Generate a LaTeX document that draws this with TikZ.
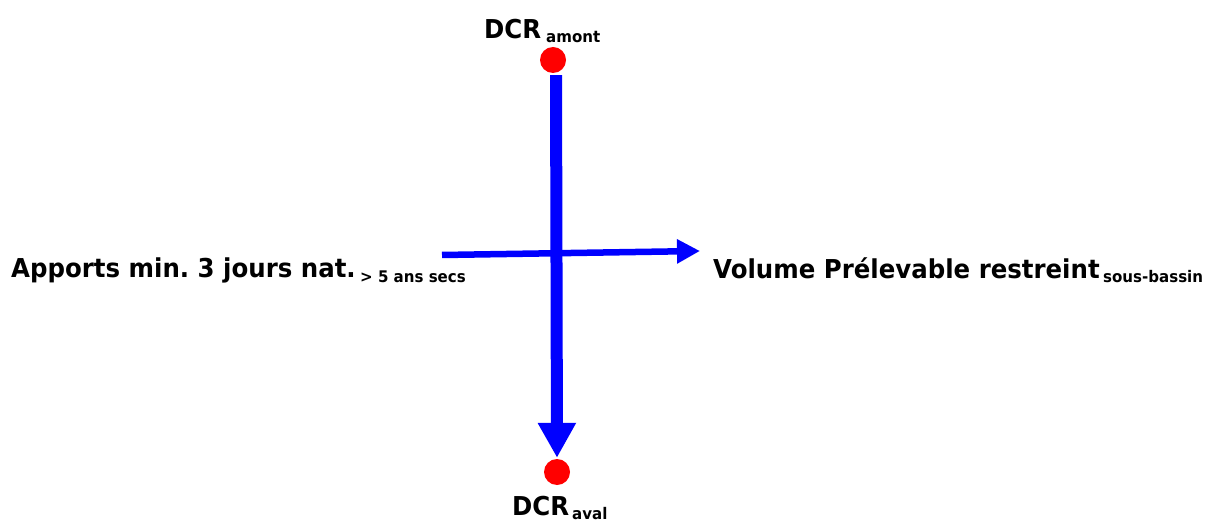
\documentclass[tikz,border=0pt]{standalone}
\usepackage{fontspec}
\setmainfont{DejaVu Sans}[FakeStretch=0.94]
\usetikzlibrary{arrows.meta}
\begin{document}
\frenchspacing
\begin{tikzpicture}[x=1pt,y=-1pt,
  lbl/.style={anchor=base west,inner sep=0pt,font=\bfseries\fontsize{26}{30}\selectfont},
  sub/.style={anchor=base west,inner sep=0pt,font=\bfseries\fontsize{16}{18}\selectfont},
  dot/.style={circle,fill=red,inner sep=0pt,minimum size=26pt},
  flow/.style={draw=blue,line width=#1}]
\useasboundingbox (0,0) rectangle (1209,521);
\node[dot] (top) at (553,60) {};
\node[dot] (bot) at (557,472) {};
\node[lbl] (dcr1) at (484,39) {DCR};
\node[sub] (am) at (546,43) {amont};
\node[lbl] (dcr2) at (512,515) {DCR};
\node[sub] (av) at (572,519) {aval};
\node[lbl] (app) at (11,277) {Apports min. 3 jours nat.};
\node[sub] (ans) at (360,282) {> 5 ans secs};
\node[lbl] (vol) at (713,278) {Volume Prélevable restreint};
\node[sub] (sb) at (1103,282) {sous-bassin};
\coordinate (hs) at (442,255);
\coordinate (he) at (700,251);
\draw[flow=12pt,-{Triangle[width=36pt,length=35pt]},shorten <=2pt,shorten >=1pt] ([xshift=3pt]top.south) -- (bot.north);
\draw[flow=6.5pt,-{Triangle[width=23pt,length=23pt]}] (hs) -- (he);
\end{tikzpicture}
\end{document}
